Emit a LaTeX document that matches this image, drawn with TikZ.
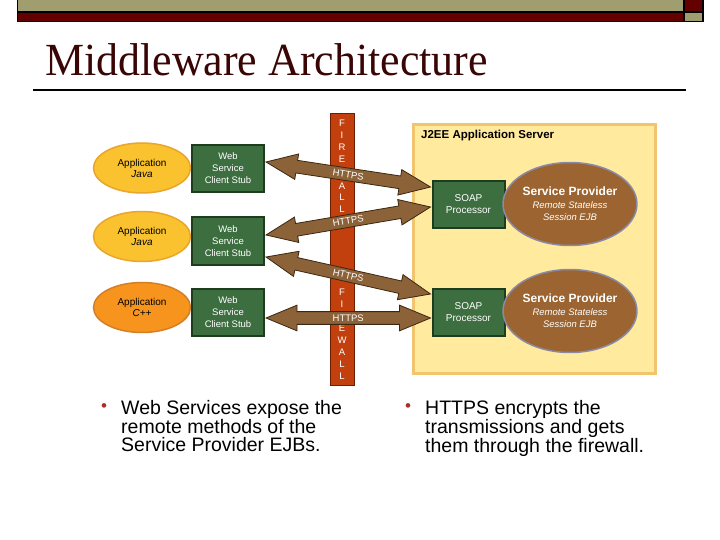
\documentclass[tikz,border=0pt]{standalone}
\usepackage{fontspec}
\setmainfont{Liberation Sans}
\newfontfamily\titlefont{Liberation Serif}
\usetikzlibrary{shapes.geometric,shapes.arrows,calc}
\definecolor{barolive}{HTML}{A09D6E}
\definecolor{barred}{HTML}{650000}
\definecolor{titlered}{HTML}{3A0505}
\definecolor{appfill}{HTML}{F9C22E}
\definecolor{appline}{HTML}{E9A52C}
\definecolor{cppfill}{HTML}{F7941D}
\definecolor{cppline}{HTML}{D57F25}
\definecolor{boxfill}{HTML}{3D6E40}
\definecolor{boxline}{HTML}{1E3D1E}
\definecolor{fwfill}{HTML}{C2400E}
\definecolor{fwline}{HTML}{6E1E00}
\definecolor{arrowfill}{HTML}{8C6239}
\definecolor{arrowline}{HTML}{3A2812}
\definecolor{serverfill}{HTML}{FFEA9E}
\definecolor{serverline}{HTML}{F2C46E}
\definecolor{provfill}{HTML}{9B6430}
\definecolor{provline}{HTML}{8A8AA8}
\definecolor{bulletred}{HTML}{B02A2A}
\tikzset{
  app/.style={ellipse,draw=appline,fill=appfill,line width=1.5pt,minimum width=97pt,
    minimum height=50pt,inner sep=0pt,align=center,font=\fontsize{10}{11}\selectfont},
  cpp/.style={app,draw=cppline,fill=cppfill},
  stub/.style={rectangle,draw=boxline,fill=boxfill,line width=2pt,minimum width=72pt,
    minimum height=47pt,inner sep=0pt,text=white,align=center,font=\fontsize{9.5}{12}\selectfont},
  provider/.style={ellipse,draw=provline,fill=provfill,line width=1.5pt,minimum width=133pt,
    minimum height=83pt,inner sep=0pt,text=white,align=center,font=\fontsize{9.5}{12}\selectfont},
  https/.style={double arrow,draw=arrowline,fill=arrowfill,line width=0.8pt,
    double arrow head extend=6.5pt,double arrow tip angle=45,inner xsep=0pt,inner ysep=2.6pt,
    text=white,font=\fontsize{9.5}{9.5}\selectfont},
  fwletter/.style={text=white,inner sep=0pt,font=\fontsize{9.5}{9.5}\selectfont},
  bullettext/.style={anchor=north west,inner sep=0pt,align=left,font=\fontsize{19.5}{18}\selectfont},
  bulletdot/.style={text=bulletred,inner sep=0pt,font=\fontsize{17}{17}\selectfont}
}
\begin{document}
\begin{tikzpicture}[x=1pt,y=-1pt]
  \useasboundingbox[fill=white] (0,0) rectangle (720,540);
  \fill[black] (17,0) rectangle (704,22.5);
  \fill[barolive] (18,0) rectangle (683,11.5);
  \fill[barred] (18,13) rectangle (683,21);
  \fill[barred] (685,0) rectangle (702,11.5);
  \fill[barolive] (685,13) rectangle (702,21);
  \node[anchor=base west,inner sep=0pt,xscale=0.955,text=titlered,
    font=\titlefont\fontsize{46}{46}\selectfont] (title) at (45,76) {Middleware Architecture};
  \draw[line width=2pt] (33,90) -- (686,90);
  \draw[serverline,fill=serverfill,line width=3pt] (413,125) rectangle (655,373);
  \node[anchor=west,inner sep=0pt,font=\bfseries\fontsize{11.5}{12}\selectfont]
    (server) at (421,136) {J2EE Application Server};
  \draw[fwline,fill=fwfill,line width=1pt] (330,114) rectangle (354,385);
  \foreach \ch/\y [count=\i] in {F/123,I/135,R/147,E/159,A/186,L/197.5,L/209}
    \node[fwletter] (fwa\i) at (342,\y) {\ch};
  \foreach \ch/\y [count=\i] in {F/292,I/304,E/328,W/340,A/352,L/364,L/376}
    \node[fwletter] (fwb\i) at (342,\y) {\ch};
  \node[app] (app1) at (142,168) {Application\\\textit{Java}};
  \node[app] (app2) at (142,236.5) {Application\\\textit{Java}};
  \node[cpp] (app3) at (142,307.5) {Application\\\textit{C++}};
  \foreach \k/\y in {1/168.5,2/241,3/312.5}
    \node[stub] (stub\k) at (228,\y) {Web\\Service\\Client Stub};
  \node[stub,font=\fontsize{10}{12}\selectfont] (soap1) at (468.5,204.5) {SOAP\\Processor};
  \node[stub,font=\fontsize{10}{12}\selectfont] (soap2) at (468.5,312.5) {SOAP\\Processor};
  \foreach \k/\y in {1/204,2/311}
    \node[provider] (prov\k) at (570,\y)
      {{\bfseries\fontsize{12}{14}\selectfont Service Provider}\\[1pt]
       \textit{Remote Stateless}\\\textit{Session EJB}};
  \coordinate (s1) at ($(stub1.east)+(1,-6.5)$);
  \coordinate (p1) at ($(soap1.west)+(-1,-17.5)$);
  \coordinate (s2) at ($(stub2.east)+(1,-6)$);
  \coordinate (p2) at ($(soap1.west)+(-1,2.5)$);
  \coordinate (s3) at ($(stub2.east)+(1,16)$);
  \coordinate (p3) at ($(soap2.west)+(-1,-18.5)$);
  \coordinate (s4) at ($(stub3.east)+(1,5.5)$);
  \coordinate (p4) at ($(soap2.west)+(-1,5.5)$);
  \foreach \a/\b/\nm in {s1/p1/link1,s2/p2/link2,s3/p3/link3,s4/p4/link4}
    \path let \p1=($(\b)-(\a)$), \n1={atan2(\y1,\x1)}, \n2={veclen(\x1,\y1)} in
      node[https,minimum height=\n2,rotate=\n1] (\nm) at ($(\a)!0.5!(\b)$) {HTTPS};
  \node[bulletdot] (dot1) at (104,408) {\textbullet};
  \node[bullettext] (text1) at (121,400)
    {Web Services expose the\\remote methods of the\\Service Provider EJBs.};
  \node[bulletdot] (dot2) at (408,408) {\textbullet};
  \node[bullettext] (text2) at (425,400)
    {HTTPS encrypts the\\transmissions and gets\\them through the firewall.};
\end{tikzpicture}
\end{document}
